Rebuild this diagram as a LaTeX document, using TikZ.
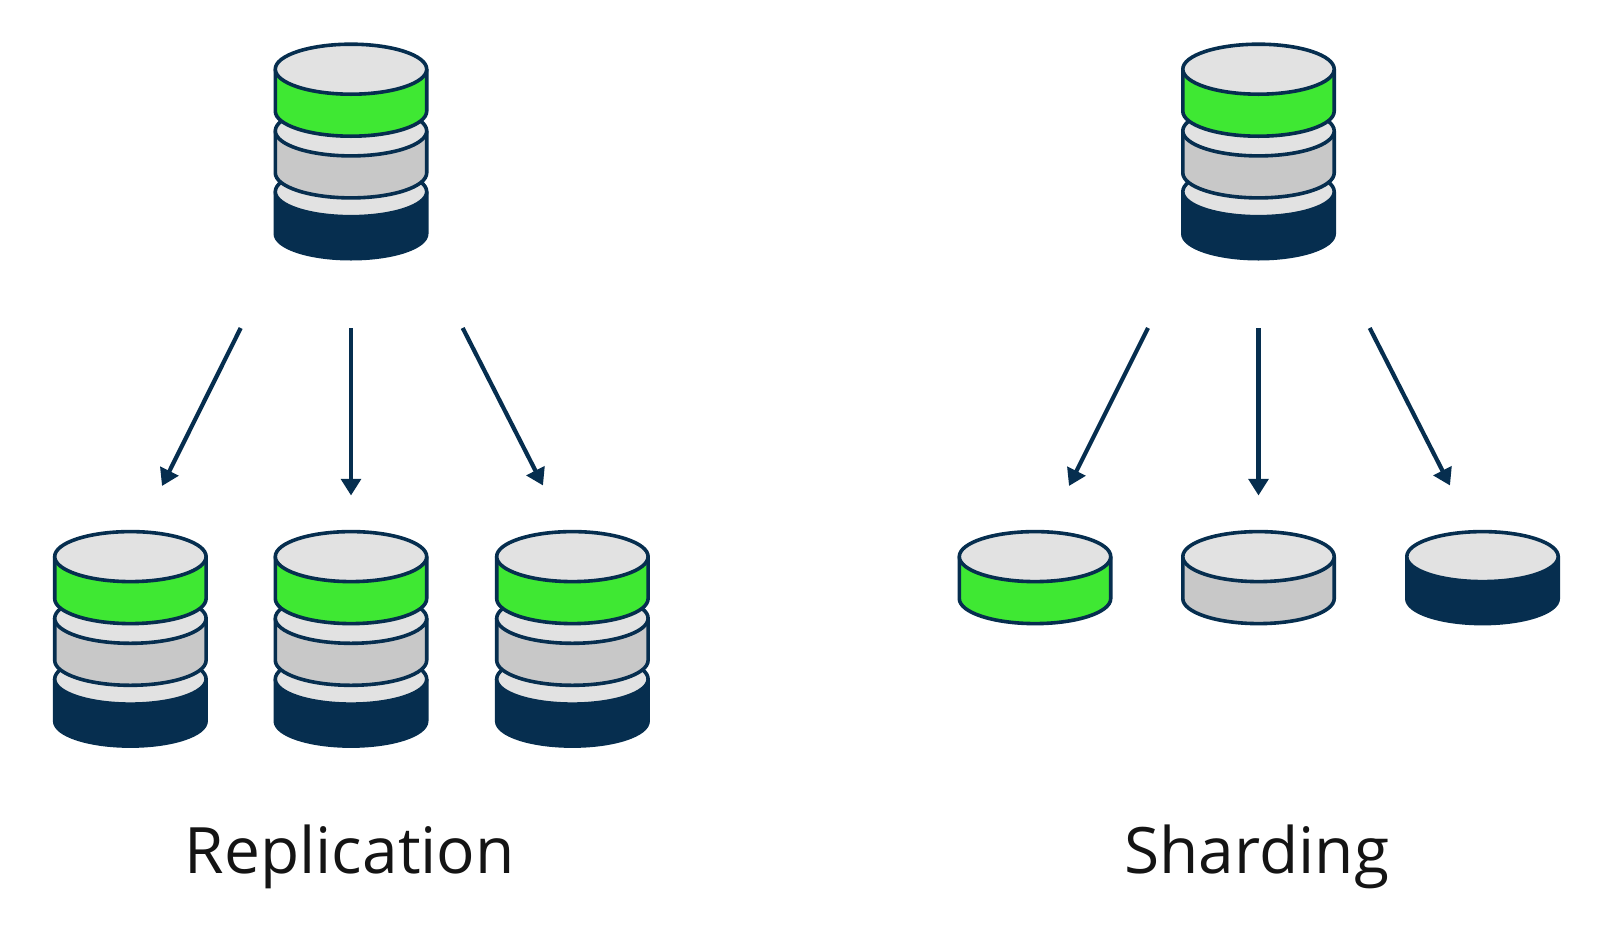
\documentclass[tikz,border=0pt]{standalone}
\usepackage{fontspec}
\setmainfont{Open Sans}
\usetikzlibrary{arrows.meta}
\definecolor{navy}{HTML}{062E4F}
\definecolor{dgreen}{HTML}{3FE833}
\definecolor{dgray}{HTML}{C8C8C8}
\definecolor{dlight}{HTML}{E2E2E2}
\tikzset{
  diskline/.style={draw=navy,line width=3.6bp,line join=round},
  flow/.style={draw=navy,line width=4.2bp,-{Triangle[length=16.7bp,width=19.7bp]}},
  caption/.style={font=\fontsize{64bp}{70bp}\selectfont,text=black!92,anchor=base,inner sep=0pt}
}
% centre x, top-ellipse centre y, body colour
\newcommand{\dbdisk}[3]{%
  \path[diskline,fill=#3] (#1-75.7,#2) -- (#1-75.7,#2+42)
     arc[start angle=180,end angle=360,x radius=75.7bp,y radius=25bp]
     -- (#1+75.7,#2) -- cycle;
  \path[diskline,fill=dlight] (#1,#2) ellipse[x radius=75.7bp,y radius=25bp];
}
\newcommand{\dbstack}[2]{%
  \dbdisk{#1}{#2+122.5}{navy}
  \dbdisk{#1}{#2+61.7}{dgray}
  \dbdisk{#1}{#2}{dgreen}
}
\begin{document}
\begin{tikzpicture}[x=1bp,y=-1bp]
\useasboundingbox (0,0) rectangle (1601,930);
\dbstack{351}{69.2}
\dbstack{1258.5}{69.2}
\dbstack{130.4}{556.6}
\dbstack{351}{556.6}
\dbstack{572.4}{556.6}
\dbdisk{1035}{556.6}{dgreen}
\dbdisk{1258.5}{556.6}{dgray}
\dbdisk{1482.5}{556.6}{navy}
\coordinate (ra1) at (240.7,328);  \coordinate (rb1) at (162,486);
\coordinate (ra2) at (351,328);    \coordinate (rb2) at (351,495.5);
\coordinate (ra3) at (462.7,328);  \coordinate (rb3) at (543,485.5);
\coordinate (sa1) at (1148,328);   \coordinate (sb1) at (1069,486);
\coordinate (sa2) at (1258.5,328); \coordinate (sb2) at (1258.5,495.5);
\coordinate (sa3) at (1369.7,328); \coordinate (sb3) at (1450,485.5);
\foreach \g in {r,s}\foreach \i in {1,2,3}{\draw[flow] (\g a\i) -- (\g b\i);}
\node[caption] (replication) at (349.8,873.6) {Replication};
\node[caption] (sharding) at (1256.8,873.6) {Sharding};
\end{tikzpicture}
\end{document}
